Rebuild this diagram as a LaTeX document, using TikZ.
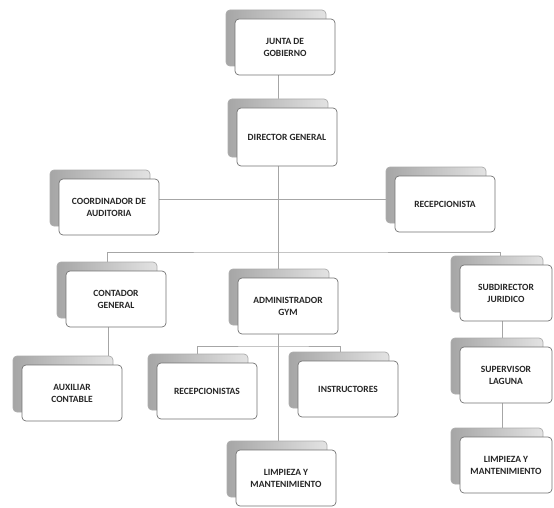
\documentclass[tikz,border=0pt]{standalone}
\usepackage{fontspec}
\setmainfont{Carlito}
\usetikzlibrary{shadows,backgrounds}

\tikzset{
  puesto/.style={draw=black!55, fill=white, line width=0.7pt, rounded corners=4pt,
    minimum width=100pt, minimum height=56pt, align=center, text=black!85,
    inner sep=2pt, font=\bfseries\fontsize{9.5}{12}\selectfont,
    copy shadow={shadow xshift=-9pt, shadow yshift=9pt, draw=gray!65,
      left color=gray!70, right color=gray!22}},
  linea/.style={draw=gray!70, line width=0.6pt}
}

\begin{document}
\begin{tikzpicture}[x=1pt,y=-1pt]
  \useasboundingbox (0,0) rectangle (554,508);
  % puestos
  \node[puesto] (junta) at (285,47) {JUNTA DE\\GOBIERNO};
  \node[puesto, minimum height=58pt] (director) at (287,137) {DIRECTOR GENERAL};
  \node[puesto] (coord) at (109,207) {COORDINADOR DE\\AUDITORIA};
  \node[puesto] (recep) at (445,204) {RECEPCIONISTA};
  \node[puesto] (contador) at (116,299) {CONTADOR\\GENERAL};
  \node[puesto] (auxiliar) at (72,393) {AUXILIAR\\CONTABLE};
  \node[puesto] (admin) at (288,306) {ADMINISTRADOR\\GYM};
  \node[puesto] (recepgym) at (207,391) {RECEPCIONISTAS};
  \node[puesto] (instr) at (348,389) {INSTRUCTORES};
  \node[puesto] (limpgym) at (286,478) {LIMPIEZA Y\\MANTENIMIENTO};
  \node[puesto, minimum width=92pt] (subdir) at (506,293) {SUBDIRECTOR\\JURIDICO};
  \node[puesto, minimum width=92pt] (superv) at (506,375) {SUPERVISOR\\LAGUNA};
  \node[puesto, minimum width=92pt] (limplag) at (506,465) {LIMPIEZA Y\\MANTENIMIENTO};
  % lineas
  \coordinate (ramal) at (278,199);
  \coordinate (bus) at (278,252);
  \coordinate (subbus) at (278,346);
  \begin{scope}[on background layer]
    \draw[linea] ([xshift=-7pt]junta.south) -- (bus);
    \draw[linea] (coord.east |- ramal) -- (recep.west |- ramal);
    \draw[linea] ([xshift=-9pt]contador.north) |- (bus) -| ([xshift=-6pt]subdir.north);
    \draw[linea] (bus) -- ([xshift=-10pt]admin.north);
    \draw[linea] ([xshift=-8pt]contador.south) -- ([xshift=-8pt]contador.south |- auxiliar.north);
    \draw[linea] ([xshift=-10pt]admin.south) -- ([xshift=-8pt]limpgym.north);
    \draw[linea] ([xshift=-10pt]recepgym.north) |- (subbus) -| ([xshift=-8pt]instr.north);
    \draw[linea] ([xshift=-4pt]subdir.south) -- ([xshift=-4pt]limplag.north);
  \end{scope}
\end{tikzpicture}
\end{document}
